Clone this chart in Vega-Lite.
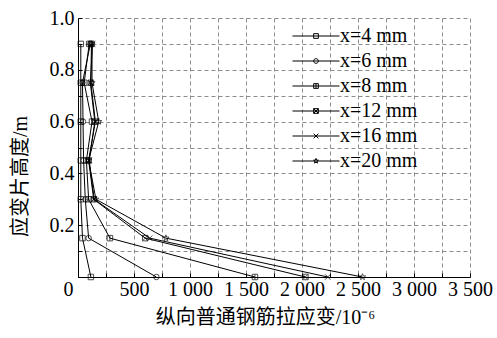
{
  "$schema": "https://vega.github.io/schema/vega-lite/v6.json",
  "width": 392,
  "height": 259,
  "autosize": "none",
  "padding": {"left": 78, "top": 18, "right": 27, "bottom": 61},
  "background": "white",
  "config": {
    "view": {"stroke": null},
    "axis": {
      "grid": true,
      "gridDash": [4, 3],
      "gridColor": "#8c8c8c",
      "gridWidth": 1,
      "domainColor": "black",
      "domainWidth": 1,
      "tickColor": "black",
      "tickSize": -4,
      "labelFont": "Liberation Serif",
      "labelFontSize": 20,
      "labelColor": "black",
      "titleFont": "Liberation Serif, Noto Sans CJK SC",
      "titleFontSize": 20,
      "titleFontWeight": "normal",
      "titleColor": "black",
      "labelFlush": false,
      "labelOverlap": false
    }
  },
  "data": {
    "values": [
      {"series": "x=4 mm", "h": 0.9, "strain": 25},
      {"series": "x=4 mm", "h": 0.75, "strain": 25},
      {"series": "x=4 mm", "h": 0.6, "strain": 25},
      {"series": "x=4 mm", "h": 0.45, "strain": 25},
      {"series": "x=4 mm", "h": 0.3, "strain": 25},
      {"series": "x=4 mm", "h": 0.15, "strain": 40},
      {"series": "x=4 mm", "h": 0, "strain": 115},
      {"series": "x=6 mm", "h": 0.9, "strain": 110},
      {"series": "x=6 mm", "h": 0.75, "strain": 40},
      {"series": "x=6 mm", "h": 0.6, "strain": 45},
      {"series": "x=6 mm", "h": 0.45, "strain": 50},
      {"series": "x=6 mm", "h": 0.3, "strain": 65},
      {"series": "x=6 mm", "h": 0.15, "strain": 95},
      {"series": "x=6 mm", "h": 0, "strain": 700},
      {"series": "x=8 mm", "h": 0.9, "strain": 100},
      {"series": "x=8 mm", "h": 0.75, "strain": 55},
      {"series": "x=8 mm", "h": 0.6, "strain": 125},
      {"series": "x=8 mm", "h": 0.45, "strain": 75},
      {"series": "x=8 mm", "h": 0.3, "strain": 95},
      {"series": "x=8 mm", "h": 0.15, "strain": 285},
      {"series": "x=8 mm", "h": 0, "strain": 1580},
      {"series": "x=12 mm", "h": 0.9, "strain": 120},
      {"series": "x=12 mm", "h": 0.75, "strain": 115},
      {"series": "x=12 mm", "h": 0.6, "strain": 155},
      {"series": "x=12 mm", "h": 0.45, "strain": 95},
      {"series": "x=12 mm", "h": 0.3, "strain": 140},
      {"series": "x=12 mm", "h": 0.15, "strain": 600},
      {"series": "x=12 mm", "h": 0, "strain": 2030},
      {"series": "x=16 mm", "h": 0.9, "strain": 130},
      {"series": "x=16 mm", "h": 0.75, "strain": 110},
      {"series": "x=16 mm", "h": 0.6, "strain": 150},
      {"series": "x=16 mm", "h": 0.45, "strain": 100},
      {"series": "x=16 mm", "h": 0.3, "strain": 145},
      {"series": "x=16 mm", "h": 0.15, "strain": 640},
      {"series": "x=16 mm", "h": 0, "strain": 2230},
      {"series": "x=20 mm", "h": 0.9, "strain": 125},
      {"series": "x=20 mm", "h": 0.75, "strain": 125},
      {"series": "x=20 mm", "h": 0.6, "strain": 185},
      {"series": "x=20 mm", "h": 0.45, "strain": 95},
      {"series": "x=20 mm", "h": 0.3, "strain": 160},
      {"series": "x=20 mm", "h": 0.15, "strain": 785},
      {"series": "x=20 mm", "h": 0, "strain": 2540}
    ]
  },
  "encoding": {
    "x": {
      "field": "strain",
      "type": "quantitative",
      "scale": {"domain": [0, 3500], "nice": false},
      "axis": {
        "title": "纵向普通钢筋拉应变/10⁻⁶",
        "values": [0, 250, 500, 750, 1000, 1250, 1500, 1750, 2000, 2250, 2500, 2750, 3000, 3250, 3500],
        "labelExpr": "datum.value % 500 == 0 ? replace(format(datum.value, ','), ',', ' ') : ''",
        "labelPadding": 6,
        "titlePadding": 8,
        "titleX": 187,
        "labelOffset": {"condition": {"test": "datum.value == 0", "value": -10}, "value": 0}
      }
    },
    "y": {
      "field": "h",
      "type": "quantitative",
      "scale": {"domain": [0, 1], "nice": false},
      "axis": {
        "title": "应变片高度/m",
        "values": [0, 0.1, 0.2, 0.3, 0.4, 0.5, 0.6, 0.7, 0.8, 0.9, 1.0],
        "labelExpr": "(datum.value > 0.15 && round(datum.value * 10) % 2 == 0) ? format(datum.value, '.1f') : ''",
        "labelPadding": 8,
        "titlePadding": 19,
        "titleY": 158
      }
    }
  },
  "layer": [
    {
      "mark": {"type": "line", "color": "black", "strokeWidth": 1},
      "encoding": {
        "detail": {"field": "series"},
        "order": {"field": "h", "type": "quantitative"}
      }
    },
    {
      "mark": {"type": "point", "filled": false, "color": "black", "size": 30, "strokeWidth": 1},
      "encoding": {
        "shape": {
          "field": "series",
          "scale": {
            "domain": ["x=4 mm", "x=6 mm", "x=8 mm", "x=12 mm", "x=16 mm", "x=20 mm"],
            "range": [
              "square",
              "circle",
              "M-1,-1H1V1H-1ZM0,-1V1",
              "M-1,-1H1V1H-1ZM-1,-1L1,1M1,-1L-1,1",
              "M-1,-1L1,1M1,-1L-1,1",
              "M0,-1.2L0.29,-0.4L1.14,-0.37L0.47,0.15L0.71,0.97L0,0.49L-0.71,0.97L-0.47,0.15L-1.14,-0.37L-0.29,-0.4Z"
            ]
          },
          "legend": null
        }
      }
    },
    {
      "mark": {"type": "point", "filled": false, "color": "black", "size": 0, "strokeWidth": 1},
      "encoding": {
        "shape": {
          "field": "series",
          "scale": {
            "domain": ["x=4 mm", "x=6 mm", "x=8 mm", "x=12 mm", "x=16 mm", "x=20 mm"],
            "range": [
              "M-4.7,0H4.7M-0.47,-0.47H0.47V0.47H-0.47Z",
              "M-4.7,0H4.7M0.47,0A0.47,0.47 0 1,1 -0.47,0A0.47,0.47 0 1,1 0.47,0",
              "M-4.7,0H4.7M-0.47,-0.47H0.47V0.47H-0.47ZM0,-0.47V0.47",
              "M-4.7,0H4.7M-0.47,-0.47H0.47V0.47H-0.47ZM-0.47,-0.47L0.47,0.47M0.47,-0.47L-0.47,0.47",
              "M-4.7,0H4.7M-0.47,-0.47L0.47,0.47M0.47,-0.47L-0.47,0.47",
              "M-4.7,0H4.7M0,-0.52L0.125,-0.17L0.49,-0.16L0.2,0.065L0.3,0.42L0,0.21L-0.3,0.42L-0.2,0.065L-0.49,-0.16L-0.125,-0.17Z"
            ]
          },
          "legend": {
            "title": null,
            "orient": "none",
            "legendX": 228,
            "legendY": 8,
            "symbolSize": 100,
            "symbolStrokeColor": "black",
            "symbolStrokeWidth": 1,
            "symbolOpacity": 1,
            "labelFont": "Liberation Serif",
            "labelFontSize": 20,
            "labelColor": "black",
            "labelOffset": 14,
            "rowPadding": 5
          }
        }
      }
    }
  ],
  "resolve": {"scale": {"shape": "independent"}, "legend": {"shape": "independent"}}
}
